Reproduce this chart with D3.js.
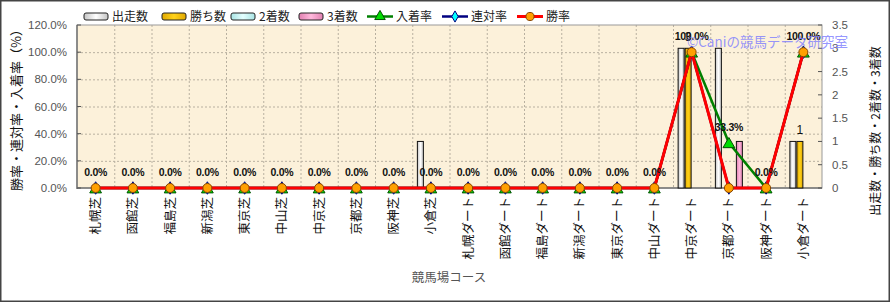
<!DOCTYPE html>
<html>
<head>
<meta charset="utf-8">
<script src="https://cdn.jsdelivr.net/npm/d3@7"></script>
<style>
  body { margin: 0; background: #fff; }
  svg { display: block; font-family: "Liberation Sans", "Noto Sans CJK JP", sans-serif; }
</style>
</head>
<body>
<svg id="chart" width="890" height="302"></svg>
<script>
// コース別データ
const courses = ["札幌芝","函館芝","福島芝","新潟芝","東京芝","中山芝","中京芝","京都芝","阪神芝","小倉芝",
  "札幌ダート","函館ダート","福島ダート","新潟ダート","東京ダート","中山ダート","中京ダート","京都ダート","阪神ダート","小倉ダート"];
const starts  = [0,0,0,0,0,0,0,0,0,1, 0,0,0,0,0,0,3,3,0,1];
const wins    = [0,0,0,0,0,0,0,0,0,0, 0,0,0,0,0,0,3,0,0,1];
const seconds = [0,0,0,0,0,0,0,0,0,0, 0,0,0,0,0,0,0,0,0,0];
const thirds  = [0,0,0,0,0,0,0,0,0,0, 0,0,0,0,0,0,0,1,0,0];
const placeRate  = [0,0,0,0,0,0,0,0,0,0, 0,0,0,0,0,0,100,33.3,0,100];
const rentaiRate = [0,0,0,0,0,0,0,0,0,0, 0,0,0,0,0,0,100,0,0,100];
const winRate    = [0,0,0,0,0,0,0,0,0,0, 0,0,0,0,0,0,100,0,0,100];
const leftTicks  = [0,20,40,60,80,100,120];
const rightTicks = [0,0.5,1,1.5,2,2.5,3,3.5];

const svg = d3.select("#chart");
const jp = "'Noto Sans CJK JP', sans-serif";

// 外枠
svg.append("rect").attr("x", 0.75).attr("y", 0.75).attr("width", 888.5).attr("height", 300.5)
  .attr("fill", "#fff").attr("stroke", "#444").attr("stroke-width", 1.5);

const pLeft = 77, pRight = 822, pTop = 25, pBottom = 188;

const x = d3.scaleBand().domain(courses).range([pLeft, pRight]);
const yL = d3.scaleLinear().domain([0, 120]).range([pBottom, pTop]);
const yR = d3.scaleLinear().domain([0, 3.5]).range([pBottom, pTop]);

// グラデーション
const defs = svg.append("defs");
function grad(id, c1, c2) {
  const g = defs.append("linearGradient").attr("id", id).attr("x1", 0).attr("x2", 1).attr("y1", 0).attr("y2", 0);
  g.append("stop").attr("offset", "0%").attr("stop-color", c1);
  g.append("stop").attr("offset", "50%").attr("stop-color", c2);
  g.append("stop").attr("offset", "100%").attr("stop-color", c1);
}
grad("gStart", "#c4c4c4", "#ffffff");
grad("gWin", "#e0a800", "#ffd21a");
grad("gSecond", "#a8e4e4", "#e4ffff");
grad("gThird", "#e080b0", "#ffb8dc");

// プロット背景
svg.append("rect").attr("x", pLeft).attr("y", pTop).attr("width", pRight - pLeft).attr("height", pBottom - pTop)
  .attr("fill", "#fcf1da");

// グリッド
svg.append("g").selectAll("line").data(leftTicks.filter(d => d > 0 && d < 120)).join("line")
  .attr("x1", pLeft).attr("x2", pRight).attr("y1", d => yL(d) + 0.5).attr("y2", d => yL(d) + 0.5)
  .attr("stroke", "#b8b0a0").attr("stroke-dasharray", "2,2");
svg.append("g").selectAll("line").data(courses.slice(1)).join("line")
  .attr("x1", d => x(d) + 0.5).attr("x2", d => x(d) + 0.5).attr("y1", pTop).attr("y2", pBottom)
  .attr("stroke", "#b8b0a0").attr("stroke-dasharray", "2,2");

// 枠
svg.append("rect").attr("x", pLeft).attr("y", pTop).attr("width", pRight - pLeft).attr("height", pBottom - pTop)
  .attr("fill", "none").attr("stroke", "#999");
svg.append("line").attr("x1", pLeft).attr("x2", pLeft).attr("y1", pTop).attr("y2", pBottom + 1).attr("stroke", "#777").attr("stroke-width", 1.5);
svg.append("line").attr("x1", pLeft).attr("x2", pRight).attr("y1", pBottom).attr("y2", pBottom).attr("stroke", "#777").attr("stroke-width", 1.5);

// 左軸
const axL = svg.append("g");
axL.selectAll("line").data(leftTicks).join("line")
  .attr("x1", pLeft).attr("x2", pLeft + 4).attr("y1", d => yL(d)).attr("y2", d => yL(d)).attr("stroke", "#555");
axL.selectAll("text").data(leftTicks).join("text")
  .attr("x", 67).attr("y", d => yL(d) + 4).attr("text-anchor", "end")
  .attr("font-size", 11.5).attr("fill", "#555").text(d => d.toFixed(1) + "%");

// 右軸
const axR = svg.append("g");
axR.selectAll("line").data(rightTicks).join("line")
  .attr("x1", pRight - 4).attr("x2", pRight).attr("y1", d => yR(d)).attr("y2", d => yR(d)).attr("stroke", "#555");
axR.selectAll("text").data(rightTicks).join("text")
  .attr("x", 832).attr("y", d => yR(d) + 4).attr("text-anchor", "start")
  .attr("font-size", 11.5).attr("fill", "#555").text(d => d);

// 棒グラフ
const barSeries = [
  { key: "出走数", values: starts, fill: "url(#gStart)" },
  { key: "勝ち数", values: wins, fill: "url(#gWin)" },
  { key: "2着数", values: seconds, fill: "url(#gSecond)" },
  { key: "3着数", values: thirds, fill: "url(#gThird)" }
];
const bw = x.bandwidth();
const xb = d3.scaleBand().domain(barSeries.map(s => s.key)).range([bw / 2 - 14, bw / 2 + 14]);

barSeries.forEach(s => {
  svg.append("g").selectAll("rect")
    .data(courses.map((c, i) => ({ c, v: s.values[i] })).filter(d => d.v > 0))
    .join("rect")
    .attr("x", d => x(d.c) + xb(s.key) + 0.5)
    .attr("y", d => yR(d.v))
    .attr("width", xb.bandwidth() - 1)
    .attr("height", d => pBottom - yR(d.v))
    .attr("fill", s.fill).attr("stroke", "#111").attr("stroke-width", 1);
});

// 勝ち数ラベル
svg.append("g").selectAll("text")
  .data(courses.map((c, i) => ({ c, v: wins[i] })).filter(d => d.v > 0))
  .join("text")
  .attr("x", d => x(d.c) + xb("勝ち数") + xb.bandwidth() / 2)
  .attr("y", d => yR(d.v) - 7)
  .attr("text-anchor", "middle").attr("font-size", 12).attr("fill", "#111").text(d => d.v);

// 折れ線
const cx = c => x(c) + bw / 2;
const line = d3.line().x(d => cx(d.c)).y(d => yL(d.v));

const lineSeries = [
  { key: "入着率", values: placeRate, stroke: "#008000", width: 2.5, marker: "triangle", mfill: "#00dd00", mstroke: "#005000" },
  { key: "連対率", values: rentaiRate, stroke: "#000080", width: 2.5, marker: "diamond", mfill: "#00ffff", mstroke: "#000080" },
  { key: "勝率", values: winRate, stroke: "#ff0000", width: 3, marker: "circle", mfill: "#ffa000", mstroke: "#884400" }
];
const sym = { triangle: d3.symbolTriangle, diamond: d3.symbolDiamond, circle: d3.symbolCircle };
const symSize = { triangle: 60, diamond: 45, circle: 64 };

lineSeries.forEach(s => {
  const pts = courses.map((c, i) => ({ c, v: s.values[i] }));
  svg.append("path").datum(pts).attr("d", line)
    .attr("fill", "none").attr("stroke", s.stroke).attr("stroke-width", s.width);
  svg.append("g").selectAll("path").data(pts).join("path")
    .attr("transform", d => `translate(${cx(d.c)},${yL(d.v) + (s.marker === "triangle" ? 1.5 : 0)})`)
    .attr("d", d3.symbol().type(sym[s.marker]).size(symSize[s.marker]))
    .attr("fill", s.mfill).attr("stroke", s.mstroke).attr("stroke-width", 1);
});

// 入着率ラベル
svg.append("g").selectAll("text")
  .data(courses.map((c, i) => ({ c, v: placeRate[i] })))
  .join("text")
  .attr("x", d => cx(d.c)).attr("y", d => yL(d.v) - 12)
  .attr("text-anchor", "middle").attr("font-size", 10.5).attr("font-weight", "bold")
  .attr("letter-spacing", -0.3).attr("fill", "#111").text(d => d.v.toFixed(1) + "%");

// X軸ラベル
svg.append("g").selectAll("text").data(courses).join("text")
  .attr("transform", d => `translate(${cx(d) + 4.5},197) rotate(-90)`)
  .attr("text-anchor", "end").attr("font-family", jp).attr("font-size", 12.5).attr("fill", "#111")
  .text(d => d);

// 軸タイトル
svg.append("text").attr("transform", "translate(21,107) rotate(-90)").attr("text-anchor", "middle")
  .attr("font-family", jp).attr("font-size", 13).attr("fill", "#111").text("勝率・連対率・入着率（%）");
svg.append("text").attr("transform", "translate(880,131) rotate(-90)").attr("text-anchor", "middle")
  .attr("font-family", jp).attr("font-size", 12).attr("fill", "#111").text("出走数・勝ち数・2着数・3着数");
svg.append("text").attr("x", 449).attr("y", 282).attr("text-anchor", "middle")
  .attr("font-family", jp).attr("font-size", 12.5).attr("fill", "#555").text("競馬場コース");

// 透かし
svg.append("text").attr("x", 687).attr("y", 47).attr("font-family", jp).attr("font-size", 13.5)
  .attr("fill", "#7b7bff").attr("fill-opacity", 0.8).text("©Caniの競馬データ研究室");

// 凡例
const legend = svg.append("g").attr("font-family", jp).attr("font-size", 12).attr("fill", "#222");
const legBars = [
  { key: "出走数", x: 84, fill: "url(#gStart)" },
  { key: "勝ち数", x: 162, fill: "url(#gWin)" },
  { key: "2着数", x: 231, fill: "url(#gSecond)" },
  { key: "3着数", x: 299, fill: "url(#gThird)" }
];
legBars.forEach(l => {
  legend.append("rect").attr("x", l.x).attr("y", 13).attr("width", 24).attr("height", 7).attr("rx", 2)
    .attr("fill", l.fill).attr("stroke", "#222");
  legend.append("text").attr("x", l.x + 28).attr("y", 21).text(l.key);
});
const legLines = [
  { s: lineSeries[0], x: 367 },
  { s: lineSeries[1], x: 442 },
  { s: lineSeries[2], x: 517 }
];
legLines.forEach(l => {
  legend.append("line").attr("x1", l.x).attr("x2", l.x + 26).attr("y1", 16.5).attr("y2", 16.5)
    .attr("stroke", l.s.stroke).attr("stroke-width", l.s.width);
  legend.append("path").attr("transform", `translate(${l.x + 13},16.5)`)
    .attr("d", d3.symbol().type(sym[l.s.marker]).size(symSize[l.s.marker] * 0.8))
    .attr("fill", l.s.mfill).attr("stroke", l.s.mstroke);
  legend.append("text").attr("x", l.x + 29).attr("y", 21).text(l.s.key);
});
</script>
</body>
</html>
